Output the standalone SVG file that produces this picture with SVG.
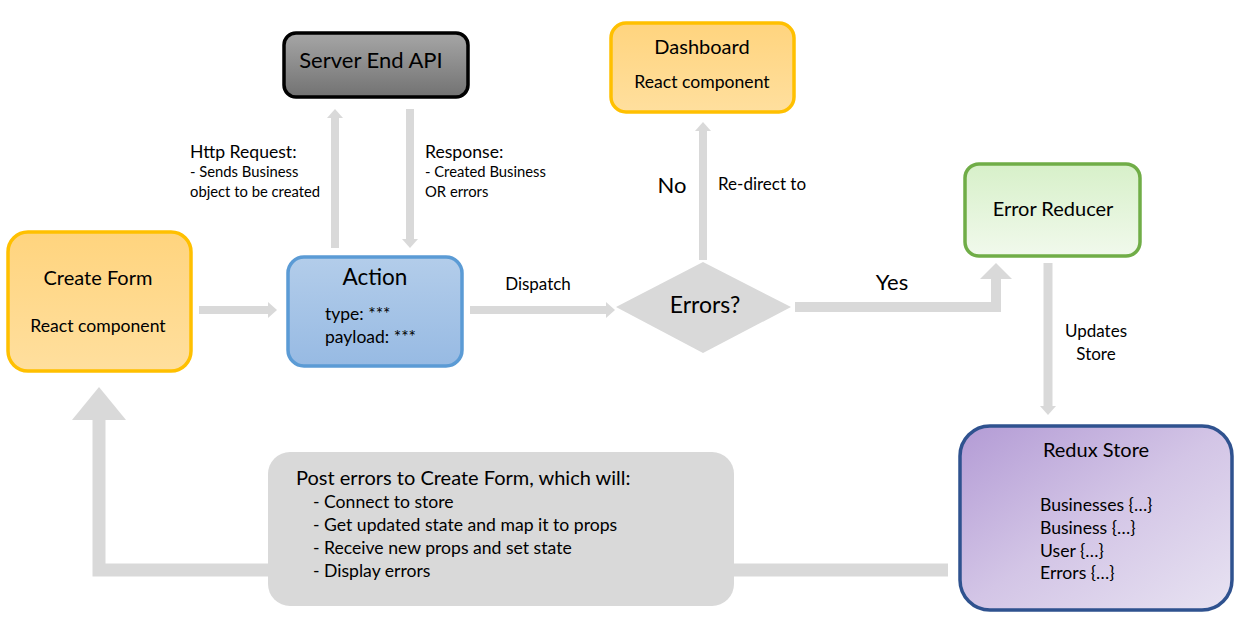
<svg xmlns="http://www.w3.org/2000/svg" width="1249" height="627" viewBox="0 0 1249 627">
<style>
text{font-family:Lato,"Open Sans","Liberation Sans",sans-serif;fill:#000}
.c{text-anchor:middle}
.ln{fill:none;stroke:#d9d9d9;stroke-linejoin:miter}
</style>
<defs>
<linearGradient id="gOrange" x1="0" y1="0" x2="0" y2="1"><stop offset="0" stop-color="#ffd47e"/><stop offset="1" stop-color="#ffdf9e"/></linearGradient>
<linearGradient id="gGray" x1="0" y1="0" x2="0" y2="1"><stop offset="0" stop-color="#a6a6a6"/><stop offset="1" stop-color="#727272"/></linearGradient>
<linearGradient id="gBlue" x1="0" y1="0" x2="0" y2="1"><stop offset="0" stop-color="#b3cdea"/><stop offset="1" stop-color="#97bae3"/></linearGradient>
<linearGradient id="gGreen" x1="0" y1="0" x2="0" y2="1"><stop offset="0" stop-color="#d7f0c9"/><stop offset="1" stop-color="#f1f9ec"/></linearGradient>
<linearGradient id="gPurple" x1="0" y1="0" x2="1" y2="1"><stop offset="0" stop-color="#b39bd5"/><stop offset="0.5" stop-color="#d3c5e6"/><stop offset="1" stop-color="#e8e3f2"/></linearGradient>
<marker id="sm" markerUnits="userSpaceOnUse" markerWidth="10" markerHeight="18" viewBox="0 -9 10 18" refX="0" refY="0" orient="auto"><path d="M0,-8 L9,0 L0,8 z" fill="#d9d9d9"/></marker>
<marker id="md" markerUnits="userSpaceOnUse" markerWidth="17" markerHeight="34" viewBox="0 -17 17 34" refX="0" refY="0" orient="auto"><path d="M0,-16 L16,0 L0,16 z" fill="#d9d9d9"/></marker>
<marker id="lg" markerUnits="userSpaceOnUse" markerWidth="34" markerHeight="56" viewBox="0 -28 34 56" refX="0" refY="0" orient="auto"><path d="M0,-27 L33,0 L0,27 z" fill="#d9d9d9"/></marker>
</defs>

<g id="connectors">
<line class="ln" x1="199" y1="310" x2="268" y2="310" stroke-width="8" marker-end="url(#sm)"/>
<line class="ln" x1="335" y1="248" x2="335" y2="118" stroke-width="8" marker-end="url(#sm)"/>
<line class="ln" x1="410" y1="109" x2="410" y2="239" stroke-width="8" marker-end="url(#sm)"/>
<line class="ln" x1="470" y1="310" x2="606" y2="310" stroke-width="8" marker-end="url(#sm)"/>
<line class="ln" x1="703" y1="260" x2="703" y2="131" stroke-width="8" marker-end="url(#sm)"/>
<polyline class="ln" points="795,307 996,307 996,279" stroke-width="10" marker-end="url(#md)"/>
<line class="ln" x1="1048" y1="263" x2="1048" y2="406" stroke-width="9" marker-end="url(#sm)"/>
<polyline class="ln" points="948,570 99,570 99,420" stroke-width="13" marker-end="url(#lg)"/>
<text x="190" y="158" font-size="17.6">Http Request:</text>
<text x="190" y="177" font-size="14.8">- Sends Business</text>
<text x="190" y="197" font-size="14.8">object to be created</text>
<text x="425" y="158" font-size="17.6">Response:</text>
<text x="425" y="177" font-size="14.8">- Created Business</text>
<text x="425" y="197" font-size="14.8">OR errors</text>
<text class="c" x="538" y="290" font-size="17">Dispatch</text>
<text class="c" x="672" y="193" font-size="22">No</text>
<text x="718" y="190" font-size="17">Re-direct to</text>
<text class="c" x="892" y="290" font-size="22">Yes</text>
<text class="c" x="1096" y="337" font-size="17">Updates</text>
<text class="c" x="1096" y="360" font-size="17">Store</text>
</g>

<g id="create-form">
<rect x="8" y="232" width="183" height="139" rx="20" fill="url(#gOrange)" stroke="#ffc000" stroke-width="3.5"/>
<text class="c" x="98" y="285" font-size="20">Create Form</text>
<text class="c" x="98" y="332" font-size="17.6">React component</text>
</g>

<g id="server-api">
<rect x="284" y="33" width="184" height="64" rx="12" fill="url(#gGray)" stroke="#000" stroke-width="3.5"/>
<text class="c" x="371" y="68" font-size="22">Server End API</text>
</g>

<g id="action">
<rect x="288" y="257" width="174" height="109" rx="16" fill="url(#gBlue)" stroke="#5b9bd5" stroke-width="3.5"/>
<text class="c" x="375" y="285" font-size="22.5">Action</text>
<text x="325" y="320" font-size="17.5">type: ***</text>
<text x="325" y="343" font-size="17.5">payload: ***</text>
</g>

<g id="dashboard">
<rect x="611" y="23" width="183" height="89" rx="15" fill="url(#gOrange)" stroke="#ffc000" stroke-width="3.5"/>
<text class="c" x="702" y="54" font-size="20">Dashboard</text>
<text class="c" x="702" y="88" font-size="17.6">React component</text>
</g>

<g id="errors-decision">
<polygon points="616,307 703,262 791,307 703,353" fill="#d9d9d9"/>
<text class="c" x="705" y="313" font-size="23">Errors?</text>
</g>

<g id="error-reducer">
<rect x="965" y="164" width="175" height="92" rx="14" fill="url(#gGreen)" stroke="#70ad47" stroke-width="3.5"/>
<text class="c" x="1053" y="216" font-size="20">Error Reducer</text>
</g>

<g id="redux-store">
<rect x="960" y="426" width="272" height="184" rx="30" fill="url(#gPurple)" stroke="#2f528f" stroke-width="3.5"/>
<text class="c" x="1096" y="457" font-size="20">Redux Store</text>
<text x="1040" y="511" font-size="17.6">Businesses {…}</text>
<text x="1040" y="534" font-size="17.6">Business {…}</text>
<text x="1040" y="557" font-size="17.6">User {…}</text>
<text x="1040" y="579" font-size="17.6">Errors {…}</text>
</g>

<g id="post-errors">
<rect x="268" y="452" width="466" height="154" rx="22" fill="#d9d9d9"/>
<text x="296" y="485" font-size="20">Post errors to Create Form, which will:</text>
<text x="313" y="508" font-size="17.6">- Connect to store</text>
<text x="313" y="531" font-size="17.6">- Get updated state and map it to props</text>
<text x="313" y="554" font-size="17.6">- Receive new props and set state</text>
<text x="313" y="577" font-size="17.6">- Display errors</text>
</g>
</svg>
